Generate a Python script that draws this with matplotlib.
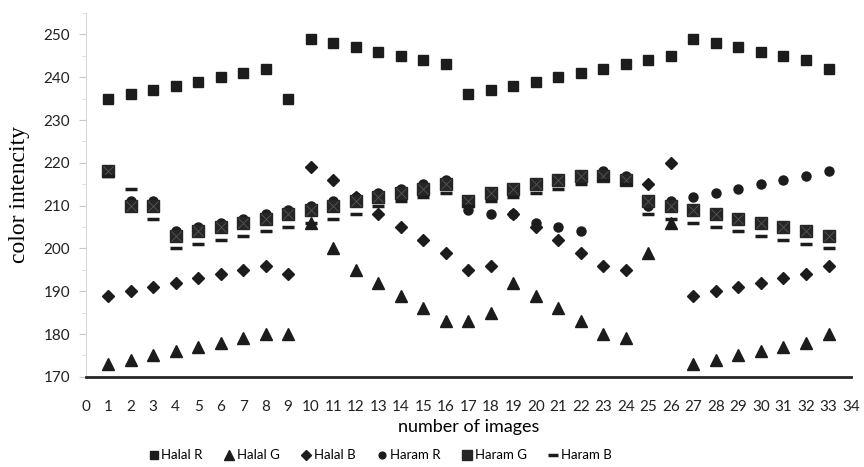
import numpy as np
import matplotlib.pyplot as plt
from matplotlib.ticker import MultipleLocator

plt.rcParams.update({
    'font.family': ['Lato', 'DejaVu Sans'],
    'xtick.labelsize': 11,
    'ytick.labelsize': 11,
})

images = list(range(1, 34))

halal_r = [235, 236, 237, 238, 239, 240, 241, 242, 235, 249, 248, 247, 246, 245, 244, 243, 236,
           237, 238, 239, 240, 241, 242, 243, 244, 245, 249, 248, 247, 246, 245, 244, 242]
halal_g = [173, 174, 175, 176, 177, 178, 179, 180, 180, 206, 200, 195, 192, 189, 186, 183, 183,
           185, 192, 189, 186, 183, 180, 179, 199, 206, 173, 174, 175, 176, 177, 178, 180]
halal_b = [189, 190, 191, 192, 193, 194, 195, 196, 194, 219, 216, 212, 208, 205, 202, 199, 195,
           196, 208, 205, 202, 199, 196, 195, 215, 220, 189, 190, 191, 192, 193, 194, 196]
haram_r = [218, 211, 211, 204, 205, 206, 207, 208, 209, 210, 211, 212, 213, 214, 215, 216, 209,
           208, 208, 206, 205, 204, 218, 217, 210, 211, 212, 213, 214, 215, 216, 217, 218]
haram_g = [218, 210, 210, 203, 204, 205, 206, 207, 208, 209, 210, 211, 212, 213, 214, 215, 211,
           213, 214, 215, 216, 217, 217, 216, 211, 210, 209, 208, 207, 206, 205, 204, 203]
haram_b = [217, 214, 207, 200, 201, 202, 203, 204, 205, 206, 207, 208, 210, 211, 212, 213, 210,
           211, 212, 213, 214, 215, 216, 215, 208, 207, 206, 205, 204, 203, 202, 201, 200]

dark = '#1c1c1c'

fig = plt.figure(figsize=(8.64, 4.67), dpi=100)
ax = fig.add_axes([0.099, 0.193, 0.886, 0.779])

ax.plot(images, halal_r, ls='none', marker='s', ms=7, color=dark, label='Halal R')
ax.plot(images, halal_g, ls='none', marker='^', ms=9, color=dark, label='Halal G')
ax.plot(images, halal_b, ls='none', marker='D', ms=6.5, color=dark, label='Halal B')
ax.plot(images, haram_r, ls='none', marker='o', ms=6.5, color=dark, label='Haram R')
ax.plot(images, haram_g, ls='none', marker='s', ms=9, color='#262626', label='Haram G')
ax.plot(images, haram_g, ls='none', marker='x', ms=7, mew=0.6, color='#555555')
ax.plot(images, haram_b, ls='none', marker='_', ms=9, mew=2.5, color=dark, label='Haram B')

ax.set_xlim(0, 34)
ax.set_ylim(170, 255)
ax.xaxis.set_major_locator(MultipleLocator(1))
ax.yaxis.set_major_locator(MultipleLocator(10))
ax.yaxis.set_minor_locator(MultipleLocator(5))
ax.set_yticks([170, 180, 190, 200, 210, 220, 230, 240, 250])

for s in ['top', 'right']:
    ax.spines[s].set_visible(False)
ax.spines['left'].set_color('#d9d9d9')
ax.spines['bottom'].set_color('#262626')
ax.spines['bottom'].set_linewidth(2)

ax.tick_params(axis='x', length=0, pad=17, colors='#222222')
ax.tick_params(axis='y', which='major', length=5, color='#c8c8c8', labelcolor='#222222', pad=6)
ax.tick_params(axis='y', which='minor', length=3, color='#d9d9d9')

ax.set_xlabel('number of images', fontsize=13, labelpad=3)
ax.set_ylabel('color intencity', fontsize=17, family='Liberation Serif', labelpad=10)

fig.legend(loc='center', bbox_to_anchor=(0.44, 0.025), ncol=6, frameon=False,
           fontsize=9.5, handlelength=0.8, handletextpad=0.2, columnspacing=1.6,
           markerscale=0.75)

fig.savefig('out.png', dpi=100)
